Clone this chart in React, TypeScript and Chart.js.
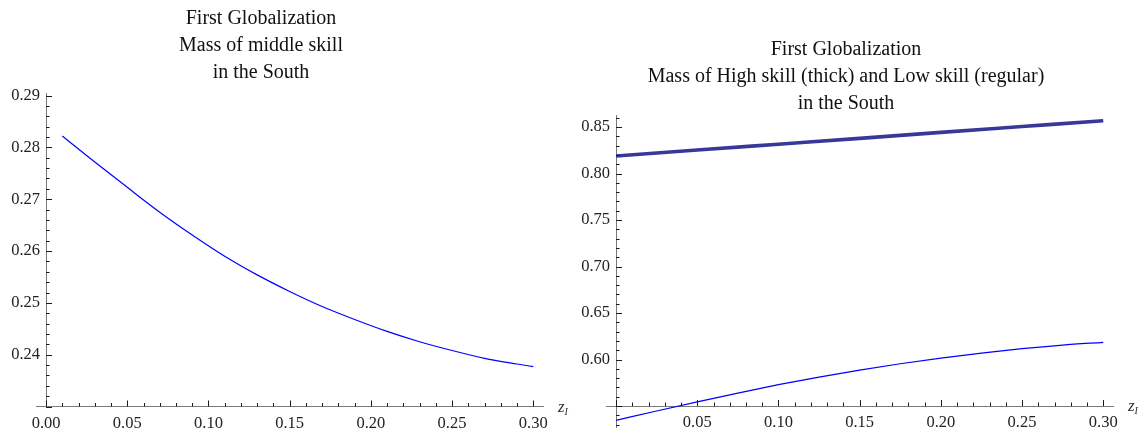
import React, { useEffect, useRef } from 'react';
import { Chart, registerables } from 'chart.js';
Chart.register(...registerables);

const FONT = "'Liberation Serif', 'Times New Roman', serif";

// ---- Left panel: mass of middle skill ----
const midX = [0.01, 0.03, 0.05, 0.07, 0.09, 0.11, 0.13, 0.15, 0.17, 0.19, 0.21, 0.23, 0.25, 0.27, 0.29, 0.30];
const midY = [0.2822, 0.2772, 0.2723, 0.2675, 0.2631, 0.2590, 0.2554, 0.2522, 0.2493, 0.2468, 0.2445, 0.2425, 0.2408, 0.2393, 0.2382, 0.2377];
const leftXTicks = [0, 0.05, 0.1, 0.15, 0.2, 0.25, 0.3];
const leftYTicks = [0.24, 0.25, 0.26, 0.27, 0.28, 0.29];
const leftTitle = ['First Globalization', 'Mass of middle skill', 'in the South'];

// ---- Right panel: high skill (thick) and low skill (regular) ----
const highX = [0, 0.05, 0.10, 0.15, 0.20, 0.25, 0.30];
const highY = [0.8189, 0.8253, 0.8316, 0.8379, 0.8443, 0.8506, 0.8569];
const lowX = [0, 0.025, 0.05, 0.075, 0.10, 0.125, 0.15, 0.175, 0.20, 0.225, 0.25, 0.275, 0.30];
const lowY = [0.5347, 0.5447, 0.5545, 0.5640, 0.5730, 0.5812, 0.5887, 0.5955, 0.6016, 0.6070, 0.6117, 0.6156, 0.6186];
const rightXTicks = [0.05, 0.1, 0.15, 0.2, 0.25, 0.3];
const rightYTicks = [0.6, 0.65, 0.7, 0.75, 0.8, 0.85];
const rightTitle = ['First Globalization', 'Mass of High skill (thick) and Low skill (regular)', 'in the South'];

const TICK_FONT_SIZE = 16.5;

const axisDecor = {
  id: 'axisDecor',
  afterDraw(chart: any, _args: any, o: any) {
    const ctx = chart.ctx;
    const xs = chart.scales.x;
    const ys = chart.scales.y;
    const ax = xs.getPixelForValue(o.yAxisAt);
    const ay = ys.getPixelForValue(o.xAxisAt);
    ctx.save();
    ctx.strokeStyle = '#1a1a1a';
    ctx.lineWidth = 1;
    ctx.beginPath();
    const kx0 = Math.ceil(xs.min / o.xStep - 1e-6);
    const kx1 = Math.floor(xs.max / o.xStep + 1e-6);
    for (let k = kx0; k <= kx1; k++) {
      const p = Math.round(xs.getPixelForValue(k * o.xStep)) + 0.5;
      const len = Math.abs(k % o.xMajor) === 0 ? 6 : 3.5;
      ctx.moveTo(p, ay);
      ctx.lineTo(p, ay - len);
    }
    const ky0 = Math.ceil(ys.min / o.yStep - 1e-6);
    const ky1 = Math.floor(ys.max / o.yStep + 1e-6);
    for (let k = ky0; k <= ky1; k++) {
      const p = Math.round(ys.getPixelForValue(k * o.yStep)) + 0.5;
      const len = Math.abs(k % o.yMajor) === 0 ? 6 : 3.5;
      ctx.moveTo(ax, p);
      ctx.lineTo(ax + len, p);
    }
    ctx.stroke();

    // y tick labels (from the y scale's own ticks), right-aligned left of the axis
    ctx.fillStyle = '#222';
    ctx.font = `${TICK_FONT_SIZE}px ${FONT}`;
    ctx.textAlign = 'right';
    ctx.textBaseline = 'middle';
    ys.ticks.forEach((t: any) => {
      ctx.fillText(String(t.label), ax - 6, ys.getPixelForValue(t.value));
    });

    // title
    ctx.fillStyle = '#111';
    ctx.textAlign = 'center';
    ctx.textBaseline = 'alphabetic';
    ctx.font = `20px ${FONT}`;
    o.title.forEach((line: string, i: number) => {
      ctx.fillText(line, o.titleX, o.titleY + i * 27);
    });

    // axis label z_I
    ctx.textAlign = 'left';
    ctx.fillStyle = '#333';
    const zx = xs.right + 15;
    ctx.font = `italic 17px ${FONT}`;
    ctx.fillText('z', zx, ay + 5);
    const w = ctx.measureText('z').width;
    ctx.font = `italic 10px ${FONT}`;
    ctx.fillText('I', zx + w, ay + 8);
    ctx.restore();
  },
};

function makeConfig(p: any) {
  const tickFont = { family: FONT, size: TICK_FONT_SIZE };
  return {
    type: 'line',
    data: { datasets: p.datasets },
    plugins: [axisDecor],
    options: {
      responsive: false,
      animation: false,
      events: [],
      layout: { padding: p.padding },
      plugins: {
        legend: { display: false },
        title: { display: false },
        tooltip: { enabled: false },
        axisDecor: p.decor,
      },
      scales: {
        x: {
          type: 'linear',
          min: p.xMin,
          max: p.xMax,
          position: { y: p.decor.xAxisAt },
          grid: { display: true, drawOnChartArea: false, drawTicks: false },
          border: { display: true, color: '#7a7a7a', width: 1 },
          ticks: {
            autoSkip: false,
            maxRotation: 0,
            padding: 7,
            color: '#222',
            font: tickFont,
            callback: (v: any) => Number(v).toFixed(2),
          },
          afterBuildTicks: (s: any) => {
            s.ticks = p.xTicks.map((v: number) => ({ value: v }));
          },
        },
        y: {
          type: 'linear',
          min: p.yMin,
          max: p.yMax,
          position: { x: p.decor.yAxisAt },
          grid: { display: true, drawOnChartArea: false, drawTicks: false },
          border: { display: true, color: '#7a7a7a', width: 1 },
          ticks: {
            display: false,
            autoSkip: false,
            color: '#222',
            font: tickFont,
            callback: (v: any) => Number(v).toFixed(2),
          },
          afterBuildTicks: (s: any) => {
            s.ticks = p.yTicks.map((v: number) => ({ value: v }));
          },
        },
      },
    },
  } as any;
}

const lineDs = (xs: number[], ys: number[], color: string, width: number) => ({
  data: xs.map((x, i) => ({ x, y: ys[i] })),
  borderColor: color,
  backgroundColor: color,
  borderWidth: width,
  pointRadius: 0,
  fill: false,
  cubicInterpolationMode: 'monotone',
  clip: false,
});

export default function App() {
  const lRef = useRef<HTMLCanvasElement>(null);
  const rRef = useRef<HTMLCanvasElement>(null);
  useEffect(() => {
    const left = new Chart(
      lRef.current as HTMLCanvasElement,
      makeConfig({
        datasets: [lineDs(midX, midY, '#0000ff', 1.2)],
        padding: { left: 36, right: 30, top: 93, bottom: 30.5 },
        xMin: -0.0062,
        xMax: 0.306,
        yMin: 0.23,
        yMax: 0.2905,
        xTicks: leftXTicks,
        yTicks: leftYTicks,
        decor: {
          xAxisAt: 0.23,
          yAxisAt: 0,
          xStep: 0.01,
          xMajor: 5,
          yStep: 0.002,
          yMajor: 5,
          title: leftTitle,
          titleX: 261,
          titleY: 23.5,
        },
      })
    );
    const right = new Chart(
      rRef.current as HTMLCanvasElement,
      makeConfig({
        datasets: [
          lineDs(highX, highY, '#38389a', 3.6),
          lineDs(lowX, lowY, '#0000ff', 1.2),
        ],
        padding: { left: 33, right: 34, top: 115, bottom: 10 },
        xMin: -0.0062,
        xMax: 0.306,
        yMin: 0.5275,
        yMax: 0.863,
        xTicks: rightXTicks,
        yTicks: rightYTicks,
        decor: {
          xAxisAt: 0.55,
          yAxisAt: 0,
          xStep: 0.01,
          xMajor: 5,
          yStep: 0.01,
          yMajor: 5,
          title: rightTitle,
          titleX: 273,
          titleY: 54.5,
        },
      })
    );
    return () => {
      left.destroy();
      right.destroy();
    };
  }, []);
  return (
    <div style={{ position: 'absolute', left: 0, top: 0, width: 1147, height: 437, background: '#fff', overflow: 'hidden' }}>
      <canvas ref={lRef} width={573} height={437} style={{ position: 'absolute', left: 0, top: 0 }} />
      <canvas ref={rRef} width={574} height={437} style={{ position: 'absolute', left: 573, top: 0 }} />
    </div>
  );
}
